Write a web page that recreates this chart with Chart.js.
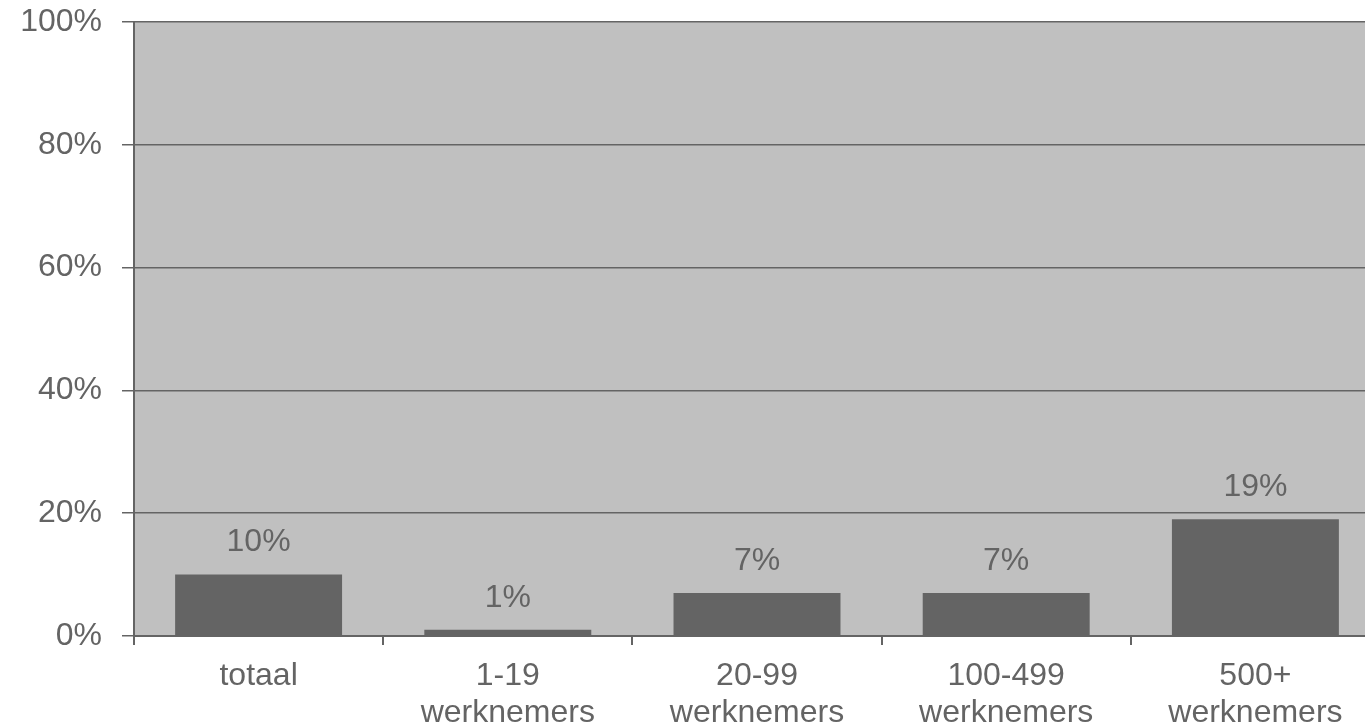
<!DOCTYPE html>
<html>
<head>
<meta charset="utf-8">
<script src="https://cdn.jsdelivr.net/npm/chart.js@4/dist/chart.umd.min.js"></script>
<style>
    html, body { margin: 0; padding: 0; background: #fff; overflow: hidden; }
    #wrap { width: 1380px; height: 723px; }
</style>
</head>
<body>
<div id="wrap"><canvas id="barChart" width="1380" height="723"></canvas></div>
<script>
// --- Data ---
const categories = ['totaal', ['1-19', 'werknemers'], ['20-99', 'werknemers'], ['100-499', 'werknemers'], ['500+', 'werknemers']];
const shares = [10, 1, 7, 7, 19];
const yTicks = [0, 20, 40, 60, 80, 100];

const textGray = '#646464';
const font = { family: '"Liberation Sans", Arial, sans-serif', size: 32 };

// gray plot area behind the bars
const plotBackground = {
    id: 'plotBackground',
    beforeDraw(chart) {
        const { ctx, chartArea: a } = chart;
        ctx.save();
        ctx.fillStyle = '#c0c0c0';
        ctx.fillRect(a.left, a.top, a.right - a.left, a.bottom - a.top);
        ctx.restore();
    }
};

// value labels above each bar
const valueLabels = {
    id: 'valueLabels',
    afterDatasetsDraw(chart) {
        const ctx = chart.ctx;
        const meta = chart.getDatasetMeta(0);
        ctx.save();
        ctx.fillStyle = textGray;
        ctx.font = `${font.size}px ${font.family}`;
        ctx.textAlign = 'center';
        ctx.textBaseline = 'middle';
        meta.data.forEach((bar, i) => {
            ctx.fillText(shares[i] + '%', bar.x, bar.y - 32);
        });
        ctx.restore();
    }
};

new Chart(document.getElementById('barChart').getContext('2d'), {
    type: 'bar',
    data: {
        labels: categories,
        datasets: [{
            data: shares,
            backgroundColor: '#646464',
            categoryPercentage: 0.67,
            barPercentage: 1.0
        }]
    },
    options: {
        responsive: false,
        devicePixelRatio: 1,
        animation: false,
        layout: { padding: { top: 22, left: 0, right: 0, bottom: 0 } },
        plugins: { legend: { display: false }, tooltip: { enabled: false } },
        scales: {
            x: {
                offset: true,
                grid: { offset: true, drawOnChartArea: false, color: '#646464', lineWidth: 2, tickLength: 9 },
                border: { color: '#646464', width: 2 },
                ticks: { color: textGray, font: { ...font, lineHeight: 1.15 }, padding: 13, maxRotation: 0 },
                afterFit(scale) {
                    scale.height = 87;
                    scale.paddingLeft = 0;
                    scale.paddingRight = 0;
                }
            },
            y: {
                min: 0,
                max: 100,
                afterBuildTicks(scale) { scale.ticks = yTicks.map(v => ({ value: v })); },
                grid: { color: '#646464', lineWidth: 1.5, tickLength: 12 },
                border: { color: '#646464', width: 2 },
                ticks: { color: textGray, font: font, padding: 20, callback: v => v + '%' },
                afterFit(scale) {
                    scale.width = 134;
                    scale.paddingTop = 0;
                    scale.paddingBottom = 0;
                }
            }
        }
    },
    plugins: [plotBackground, valueLabels]
});
</script>
</body>
</html>
